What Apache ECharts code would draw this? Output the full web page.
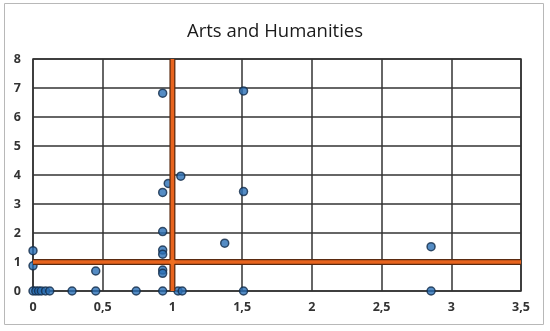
<!DOCTYPE html>
<html>
<head>
<meta charset="utf-8">
<script src="https://cdn.jsdelivr.net/npm/echarts@6/dist/echarts.min.js"></script>
<style>
  html, body { margin: 0; padding: 0; background: #fff; }
  #chart { width: 550px; height: 331px; }
</style>
</head>
<body>
<div id="chart"></div>
<script>
// scatter points, x values and y values
const pointX = [
  0, 0, 0, 0.02, 0.04, 0.06, 0.09, 0.12, 0.28, 0.45, 0.45, 0.74,
  0.93, 0.93, 0.93, 0.93, 0.93, 0.93, 0.93, 0.93, 0.97, 1.06, 1.04, 1.07,
  1.375, 1.51, 1.51, 1.51, 2.855, 2.855
];
const pointY = [
  1.39, 0.87, 0, 0, 0, 0, 0, 0, 0, 0, 0.69, 0,
  0, 6.82, 3.40, 2.05, 1.41, 1.27, 0.72, 0.61, 3.71, 3.96, 0, 0,
  1.65, 6.90, 3.43, 0, 1.53, 0
];
// orange reference lines
const vLineX = [1, 1];
const vLineY = [0, 8];
const hLineX = [0, 3.5];
const hLineY = [1, 1];

const xTicks = ['0', '0,5', '1', '1,5', '2', '2,5', '3', '3,5'];

const points = pointX.map((x, i) => [x, pointY[i]]);
const vLine = vLineX.map((x, i) => [x, vLineY[i]]);
const hLine = hLineX.map((x, i) => [x, hLineY[i]]);

const chart = echarts.init(document.getElementById('chart'));

const refLine = (data) => [
  {
    type: 'line', data: data, symbol: 'none', z: 3, silent: true,
    lineStyle: { color: '#5a2a10', width: 6 }
  },
  {
    type: 'line', data: data, symbol: 'none', z: 4, silent: true,
    lineStyle: { color: '#e8641e', width: 3.5 }
  }
];

chart.setOption({
  animation: false,
  title: {
    text: 'Arts and Humanities',
    left: 'center',
    top: 17,
    textStyle: { fontFamily: 'Open Sans', fontSize: 18.5, fontWeight: 'normal', color: '#1a1a1a' }
  },
  graphic: [{
    type: 'rect',
    shape: { x: 4.5, y: 3.5, width: 539, height: 321 },
    style: { fill: 'none', stroke: '#b8b8b8', lineWidth: 1 },
    z: -1
  }],
  grid: { left: 33, right: 29, top: 59, bottom: 40, show: true, borderColor: '#333', borderWidth: 1.5 },
  xAxis: {
    type: 'value', min: 0, max: 3.5, interval: 0.5,
    axisLine: { show: false },
    axisTick: { show: false },
    splitLine: { lineStyle: { color: '#333', width: 1.5 } },
    axisLabel: {
      margin: 10, color: '#333', fontFamily: 'Open Sans', fontSize: 12.5, fontWeight: 'bold',
      formatter: (v) => xTicks[Math.round(v * 2)]
    }
  },
  yAxis: {
    type: 'value', min: 0, max: 8, interval: 1,
    axisLine: { show: false },
    axisTick: { show: false },
    splitLine: { lineStyle: { color: '#333', width: 1.5 } },
    axisLabel: { margin: 12, color: '#333', fontFamily: 'Open Sans', fontSize: 12.5, fontWeight: 'bold' }
  },
  series: [
    ...refLine(vLine),
    ...refLine(hLine),
    {
      type: 'scatter', data: [[1, 1]], symbol: 'diamond', symbolSize: 8, z: 5,
      itemStyle: { color: '#f07020' }
    },
    {
      type: 'scatter', data: points, symbolSize: 8, z: 2,
      itemStyle: { color: '#2a6fb5', borderColor: '#132c48', borderWidth: 1.5 }
    }
  ]
});
</script>
</body>
</html>
